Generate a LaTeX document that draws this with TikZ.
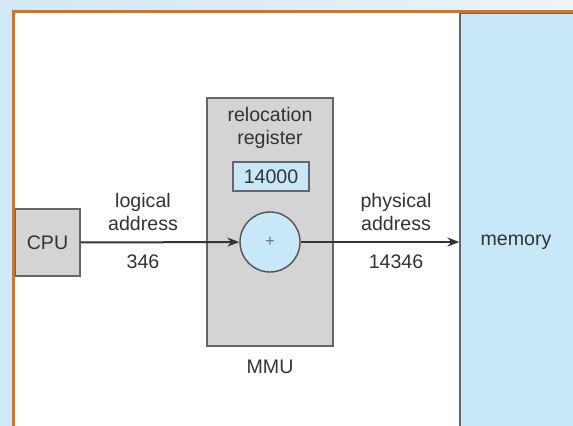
\documentclass[tikz,border=0pt]{standalone}
\usepackage{fontspec}
\setmainfont{Liberation Sans}
\usetikzlibrary{positioning,arrows.meta}
\definecolor{ink}{HTML}{333333}
\definecolor{boxgray}{HTML}{D4D4D4}
\definecolor{lblue}{HTML}{C8E7F8}
\definecolor{frameor}{HTML}{D8731C}
\definecolor{bgleft}{HTML}{D2E7F7}
\definecolor{bgright}{HTML}{EEF3F7}
\tikzset{
  >={Stealth[length=6pt,width=4.5pt]},
  unit/.style={draw=ink!75, fill=boxgray, line width=0.6pt, inner sep=0pt},
  reg/.style={draw=ink!75, fill=lblue, line width=0.6pt, inner sep=0pt},
  adder/.style={circle, draw=ink!85, fill=lblue, line width=0.7pt, inner sep=0pt,
                minimum size=30pt},
  txt/.style={font=\fontsize{9.8}{11.8}\selectfont, text=ink, align=center},
  l/.style={->, line width=1pt, draw=ink},
}
\begin{document}
\begin{tikzpicture}[x=0.5pt, y=-0.5pt]
  \useasboundingbox (0,0) rectangle (573,425);
  \clip (0,0) rectangle (573,425);
  % page background
  \shade[left color=bgleft, right color=bgright] (0,0) rectangle (573,425);
  \fill[white] (15,13) rectangle (580,430);
  % boxes
  \node[reg, minimum width=100pt, minimum height=220pt] (mem) at (560,233) {};
  \node[txt] (memlbl) at (516,242) {memory};
  \node[unit, minimum width=32.5pt, minimum height=33.5pt] (cpu) at (47.5,242.5) {};
  \node[txt] at (cpu) {CPU};
  \node[unit, minimum width=63pt, minimum height=124pt] (mmu) at (270,222) {};
  \node[txt] (rlbl) at (270,128) {relocation\\register};
  \node[reg, txt, minimum width=38pt, minimum height=14.5pt] (rreg) at (271,176.5) {14000};
  \node[adder] (add) at (270,242) {\fontsize{8}{9}\selectfont\color{ink!70}+};
  \node[txt] (mmulbl) at (270,367) {MMU};
  % address flow
  \draw[l] (cpu) -- (add);
  \draw[l] (add) -- (mem.west |- add);
  \node[txt] (logic) at (143,212) {logical\\address};
  \node[txt] (lval) at (143,262) {346};
  \node[txt] (phys) at (396,212) {physical\\address};
  \node[txt] (pval) at (396,262) {14346};
  % frame on top
  \draw[frameor, line width=1.4pt] (13.5,440) |- (580,11.5);
\end{tikzpicture}
\end{document}
